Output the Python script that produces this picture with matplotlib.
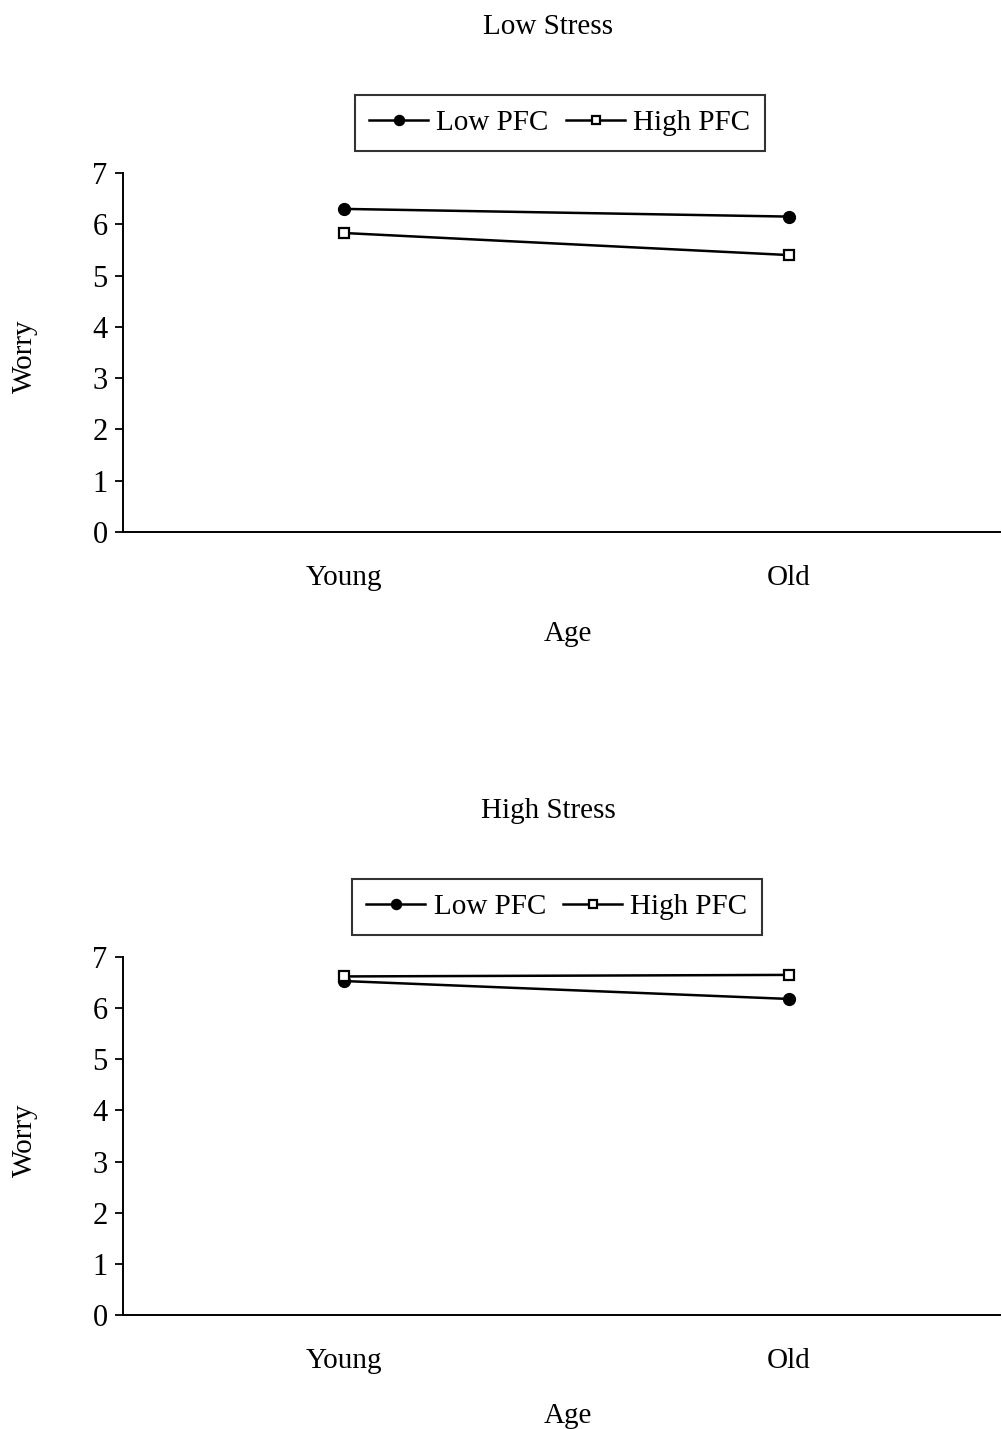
import numpy as np
import matplotlib.pyplot as plt

plt.rcParams["font.family"] = ["Liberation Serif", "DejaVu Serif"]

ages = ["Young", "Old"]
yticks = [0, 1, 2, 3, 4, 5, 6, 7]

# Low Stress panel
low_stress_low_pfc = [6.30, 6.15]
low_stress_high_pfc = [5.83, 5.40]

# High Stress panel
high_stress_low_pfc = [6.53, 6.18]
high_stress_high_pfc = [6.62, 6.65]

panels = [
    ("Low Stress", low_stress_low_pfc, low_stress_high_pfc),
    ("High Stress", high_stress_low_pfc, high_stress_high_pfc),
]

W, H = 1002, 1429
fig = plt.figure(figsize=(W / 100, H / 100), dpi=100)


def fx(px):
    return px / W


def fy(py):
    return 1 - py / H


# pixel layout of each panel: axes top, axes bottom, title y, legend centre, xlabel y, ylabel y
layout = [
    dict(top=173, bottom=532, title=27, leg=123, leg_x=560, xlab=634, ylab=356),
    dict(top=957, bottom=1315, title=811, leg=907, leg_x=557, xlab=1416, ylab=1140),
]

FS = 21

for (title, low_pfc, high_pfc), lay in zip(panels, layout):
    ax = fig.add_axes([fx(123), fy(lay["bottom"]), fx(1000) - fx(123),
                       fy(lay["top"]) - fy(lay["bottom"])])
    x = np.arange(len(ages))
    ax.plot(x, low_pfc, color="black", lw=1.8, marker="o", ms=8.5,
            mfc="black", mec="black", label="Low PFC")
    ax.plot(x, high_pfc, color="black", lw=1.8, marker="s", ms=7.5,
            mfc="white", mec="black", mew=1.6, label="High PFC")
    ax.set_xlim(-0.497, 1.475)
    ax.set_ylim(0, 7)
    ax.set_yticks(yticks)
    ax.set_xticks(x)
    ax.set_xticklabels(ages)
    ax.tick_params(axis="y", direction="out", length=6, width=1.3,
                   labelsize=FS + 1, pad=5)
    ax.tick_params(axis="x", length=0, labelsize=FS, pad=24)
    for s in ["top", "right"]:
        ax.spines[s].set_visible(False)
    for s in ["left", "bottom"]:
        ax.spines[s].set_linewidth(1.4)

    fig.text(fx(548), fy(lay["title"]), title, ha="center", va="center",
             fontsize=FS)
    fig.text(fx(568), fy(lay["xlab"]), "Age", ha="center", va="center",
             fontsize=FS)
    fig.text(fx(25), fy(lay["ylab"]), "Worry", ha="center", va="center",
             rotation=90, fontsize=FS)

    leg = fig.legend(handles=ax.get_lines(), loc="center",
                     bbox_to_anchor=(fx(lay["leg_x"]), fy(lay["leg"])),
                     ncol=2, fontsize=FS, frameon=True, fancybox=False,
                     edgecolor="black", handlelength=2.0, handletextpad=0.3,
                     columnspacing=0.6, borderpad=0.5, borderaxespad=0,
                     markerscale=0.85)
    leg.get_frame().set_linewidth(1.5)

fig.savefig("out.png", dpi=100)
